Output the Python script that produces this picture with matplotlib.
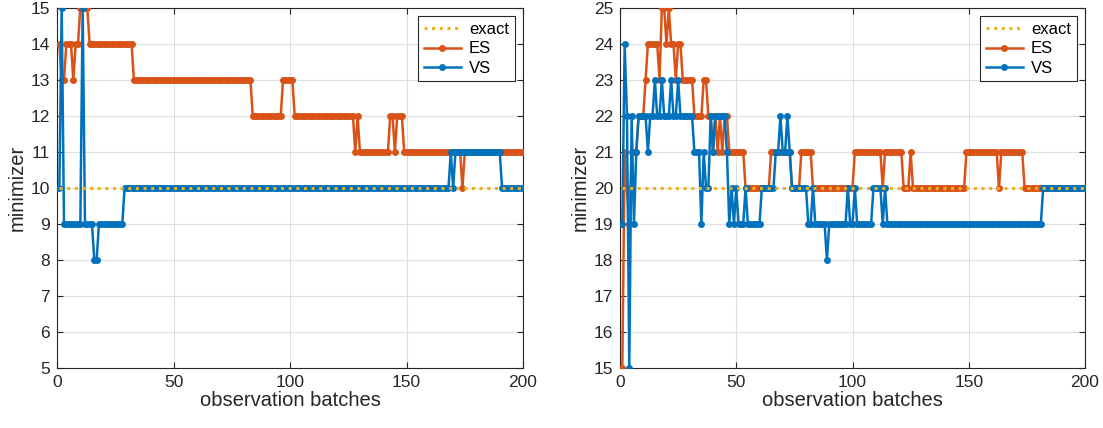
import matplotlib

matplotlib.use("Agg")
import matplotlib.pyplot as plt
import numpy as np

plt.rcParams["font.family"] = ["Liberation Sans", "DejaVu Sans"]

# observation batch index, 1..200
batches = np.arange(1, 201)

# step series as (value, run length) pairs
es_left_vals = [14, 13, 14, 13, 14, 15, 14, 13, 12, 13, 12, 11, 12, 11, 12, 11, 12, 11, 10, 11]
es_left_runs = [1, 2, 3, 1, 2, 4, 19, 51, 13, 5, 26, 1, 1, 13, 2, 1, 3, 25, 1, 26]

vs_left_vals = [10, 15, 9, 15, 9, 8, 9, 10, 11, 10, 11, 10]
vs_left_runs = [1, 1, 8, 1, 4, 2, 11, 140, 1, 1, 20, 10]

es_right_vals = [15, 21, 20, 19, 21, 22, 23, 24, 23, 25, 24, 25, 24, 23, 24, 23, 22, 23, 22,
                 21, 22, 21, 22, 21, 22, 21, 20, 21, 20, 21, 20, 21, 20, 21, 20, 21, 20, 21,
                 20, 21, 20]
es_right_runs = [1, 1, 1, 1, 3, 3, 1, 5, 1, 2, 1, 1, 2, 1, 2, 5, 4, 2, 2,
                 1, 1, 1, 1, 1, 2, 7, 11, 9, 4, 5, 18, 12, 1, 8, 3, 1, 23, 14,
                 1, 10, 27]

vs_right_vals = [19, 24, 22, 15, 22, 19, 21, 22, 21, 22, 23, 22, 23, 22, 23, 22, 23, 22,
                 21, 19, 21, 20, 22, 21, 22, 21, 19, 20, 19, 20, 19, 20, 19, 20, 21, 22,
                 21, 22, 21, 20, 19, 20, 19, 18, 19, 20, 19, 20, 19, 20, 19, 20, 19, 20]
vs_right_runs = [1, 1, 1, 1, 1, 1, 1, 4, 1, 2, 1, 2, 1, 3, 1, 2, 1, 6,
                 3, 1, 1, 2, 1, 1, 5, 1, 1, 1, 1, 1, 3, 1, 6, 6, 2, 1,
                 2, 1, 1, 7, 2, 1, 5, 1, 8, 1, 2, 1, 7, 4, 1, 1, 67, 19]

exact_left = 10
exact_right = 20

x_ticks = [0, 50, 100, 150, 200]

BLUE = "#0072BD"
ORANGE = "#D95319"
YELLOW = "#EDB120"
AX_COLOR = "#262626"


def expand(vals, runs):
    return np.repeat(vals, runs)


def draw_panel(ax, es, vs, exact, ylim):
    ax.plot(batches, es, "-o", color=ORANGE, lw=1.8, ms=5, mew=0, label="ES", zorder=3)
    ax.plot(batches, vs, "-o", color=BLUE, lw=1.8, ms=5, mew=0, label="VS", zorder=4)
    ax.plot(batches, np.full(len(batches), exact), color=YELLOW, lw=2.2,
            linestyle=(0, (1, 1.5)), label="exact", zorder=5)

    ax.set_xlim(0, 200)
    ax.set_ylim(*ylim)
    ax.set_xticks(x_ticks)
    ax.set_yticks(np.arange(ylim[0], ylim[1] + 1))
    ax.grid(True, color="#dfdfdf", lw=0.8)
    ax.set_axisbelow(True)
    ax.tick_params(direction="in", top=True, right=True, length=4, pad=5,
                   labelsize=12.5, colors=AX_COLOR)
    for sp in ax.spines.values():
        sp.set_color(AX_COLOR)
        sp.set_linewidth(0.8)
    ax.set_xlabel("observation batches", fontsize=14.5, color=AX_COLOR, labelpad=1)
    ax.set_ylabel("minimizer", fontsize=14.5, color=AX_COLOR, labelpad=3)

    handles, labels = ax.get_legend_handles_labels()
    order = [labels.index(n) for n in ("exact", "ES", "VS")]
    leg = ax.legend([handles[i] for i in order], [labels[i] for i in order],
                    loc="upper right", fontsize=12, fancybox=False, framealpha=1,
                    edgecolor=AX_COLOR, borderpad=0.35, labelspacing=0.25,
                    handlelength=2.2, handletextpad=0.5, borderaxespad=0.5)
    leg.get_frame().set_linewidth(0.8)


fig = plt.figure(figsize=(11.03, 4.28), dpi=100)
ax1 = fig.add_axes([0.0517, 0.1402, 0.4225, 0.841])
ax2 = fig.add_axes([0.5621, 0.1402, 0.4216, 0.841])

draw_panel(ax1, expand(es_left_vals, es_left_runs), expand(vs_left_vals, vs_left_runs),
           exact_left, (5, 15))
draw_panel(ax2, expand(es_right_vals, es_right_runs), expand(vs_right_vals, vs_right_runs),
           exact_right, (15, 25))

fig.savefig("out.png", dpi=100)
